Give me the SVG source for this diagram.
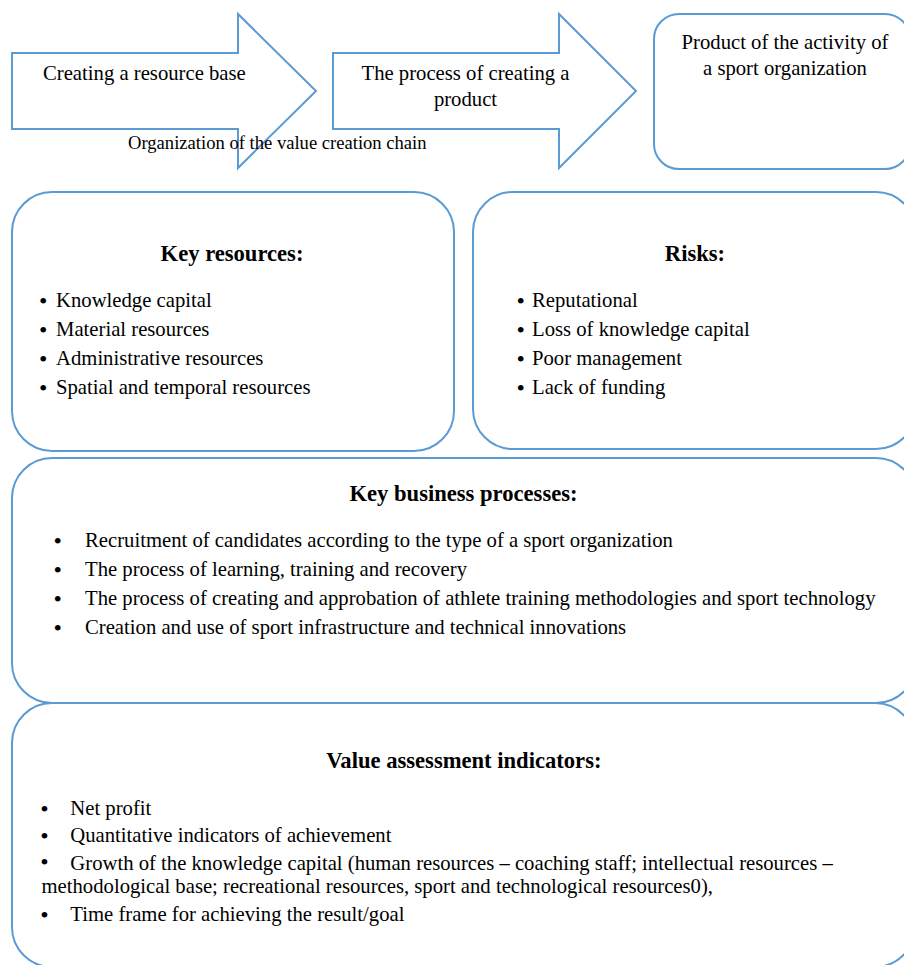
<svg xmlns="http://www.w3.org/2000/svg" width="904" height="965" viewBox="0 0 904 965">
<style>
.shape{fill:#ffffff;stroke:#5B9BD5;stroke-width:2}
text{font-family:"Liberation Serif","Times New Roman",serif;fill:#000000}
.t{font-size:20.7px}
.b{font-size:24px}
.h{font-size:22.6px;font-weight:bold;text-anchor:middle}
.c{text-anchor:middle}
.cap{font-size:18.6px}
</style>
<rect width="904" height="965" fill="#ffffff"/>
<g id="arrow-resource-base">
<polygon class="shape" points="12,53 238,53 238,14 316,91 238,168 238,129 12,129"/>
<text class="t" x="43" y="80">Creating a resource base</text>
</g>
<g id="arrow-creating-product">
<polygon class="shape" points="333,53 559,53 559,14 636,91 559,168 559,129 333,129"/>
<text class="t c" x="465.5" y="80">The process of creating a</text>
<text class="t c" x="465.5" y="106">product</text>
</g>
<g id="caption">
<text class="cap" x="128" y="149">Organization of the value creation chain</text>
</g>
<g id="product">
<rect class="shape" x="654" y="14" width="256" height="155" rx="25" ry="25"/>
<text class="t c" x="785" y="49">Product of the activity of</text>
<text class="t c" x="785" y="75">a sport organization</text>
</g>
<g id="key-resources">
<rect class="shape" x="12" y="192" width="442" height="259" rx="40" ry="40"/>
<text class="h" x="232" y="261">Key resources:</text>
<text class="b" x="39" y="309">•</text><text class="t" x="56" y="307">Knowledge capital</text>
<text class="b" x="39" y="338">•</text><text class="t" x="56" y="336">Material resources</text>
<text class="b" x="39" y="367">•</text><text class="t" x="56" y="365">Administrative resources</text>
<text class="b" x="39" y="396">•</text><text class="t" x="56" y="394">Spatial and temporal resources</text>
</g>
<g id="risks">
<rect class="shape" x="473" y="192" width="443" height="257" rx="40" ry="40"/>
<text class="h" x="695" y="261">Risks:</text>
<text class="b" x="516.4" y="309">•</text><text class="t" x="532" y="307">Reputational</text>
<text class="b" x="516.4" y="338">•</text><text class="t" x="532" y="336">Loss of knowledge capital</text>
<text class="b" x="516.4" y="367">•</text><text class="t" x="532" y="365">Poor management</text>
<text class="b" x="516.4" y="396">•</text><text class="t" x="532" y="394">Lack of funding</text>
</g>
<g id="key-business-processes">
<rect class="shape" x="12" y="458" width="904" height="245" rx="40" ry="40"/>
<text class="h" x="463.5" y="501">Key business processes:</text>
<text class="b" x="53.5" y="549">•</text><text class="t" x="85" y="547">Recruitment of candidates according to the type of a sport organization</text>
<text class="b" x="53.5" y="578">•</text><text class="t" x="85" y="576">The process of learning, training and recovery</text>
<text class="b" x="53.5" y="607">•</text><text class="t" x="85" y="605">The process of creating and approbation of athlete training methodologies and sport technology</text>
<text class="b" x="53.5" y="636">•</text><text class="t" x="85" y="634">Creation and use of sport infrastructure and technical innovations</text>
</g>
<g id="value-assessment-indicators">
<rect class="shape" x="12" y="703" width="903" height="264" rx="40" ry="40"/>
<text class="h" x="463.8" y="768">Value assessment indicators:</text>
<text class="b" x="40.2" y="817">•</text><text class="t" x="70.3" y="815">Net profit</text>
<text class="b" x="40.2" y="844">•</text><text class="t" x="70.3" y="842">Quantitative indicators of achievement</text>
<text class="b" x="40.2" y="870">•</text><text class="t" x="70.3" y="870">Growth of the knowledge capital (human resources – coaching staff; intellectual resources –</text>
<text class="t" x="41.5" y="893">methodological base; recreational resources, sport and technological resources0),</text>
<text class="b" x="40.2" y="923">•</text><text class="t" x="70.3" y="921">Time frame for achieving the result/goal</text>
</g>
<g id="connectors"></g>
</svg>
